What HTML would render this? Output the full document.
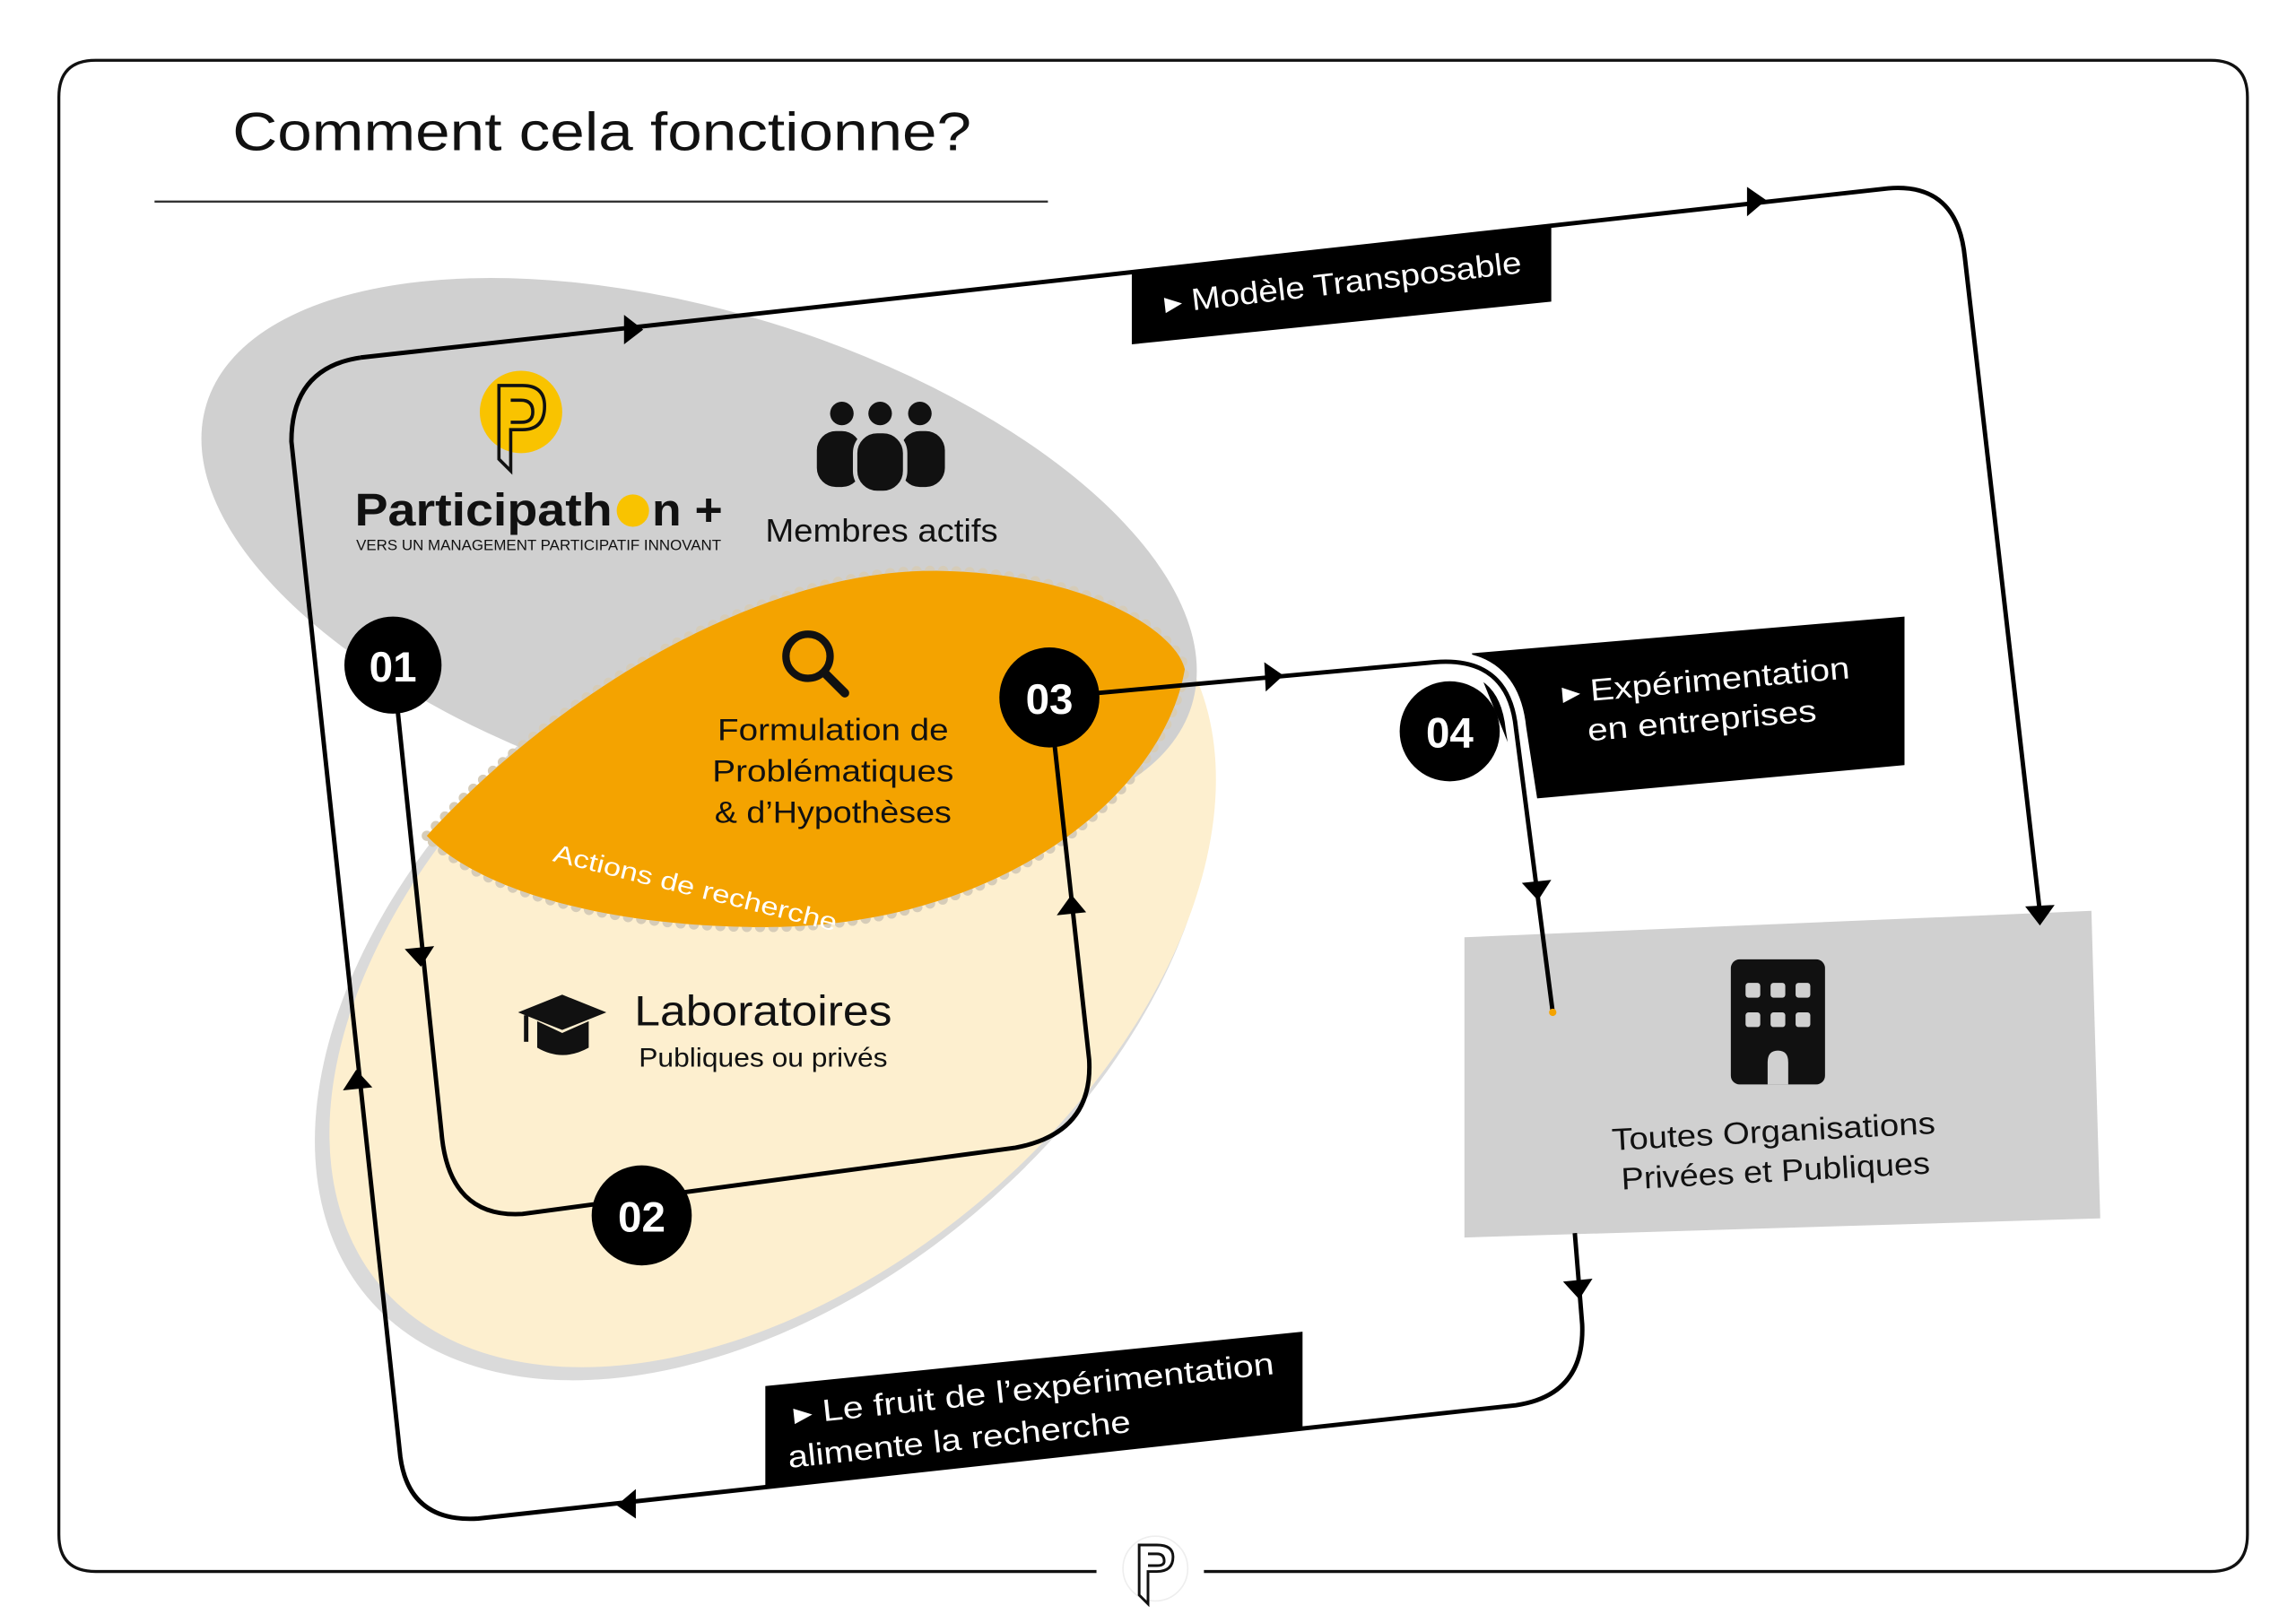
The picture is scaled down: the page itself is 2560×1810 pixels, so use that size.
<!DOCTYPE html>
<html><head><meta charset="utf-8"><style>
html,body{margin:0;padding:0;background:#fff;}
svg{display:block;}
text{font-family:"Liberation Sans",sans-serif;}
</style></head><body>
<svg width="2560" height="1810" viewBox="0 0 1560 1103" preserveAspectRatio="none" xmlns="http://www.w3.org/2000/svg">
<rect width="1560" height="1103" fill="#fff"/>
<!-- outer frame -->
<path d="M745,1068 H65 Q40,1068 40,1043 V66 Q40,41 65,41 H1502 Q1527,41 1527,66 V1043 Q1527,1068 1502,1068 H818" fill="none" stroke="#111" stroke-width="2"/>
<text x="158" y="102" font-size="37" fill="#111" textLength="502" lengthAdjust="spacingAndGlyphs">Comment cela fonctionne?</text>
<line x1="105" y1="137" x2="712" y2="137" stroke="#333" stroke-width="1.5"/>
<!-- cream ellipse -->
<ellipse cx="519" cy="655" rx="352" ry="222" transform="rotate(-40 519 655)" fill="#dadada"/>
<ellipse cx="525" cy="650" rx="348" ry="218" transform="rotate(-40 525 650)" fill="#fdefcf"/>
<!-- gray ellipse -->
<ellipse cx="475" cy="377" rx="350" ry="165" transform="rotate(17 475 377)" fill="#d0d0d0"/>
<!-- orange lens -->
<path d="M290,568 C380,470 520,385 640,388 C740,390 800,430 805,455 C790,540 680,630 520,630 C400,630 320,600 290,568 Z" fill="#f4a300" stroke="#d6ccb8" stroke-width="7" stroke-dasharray="0 9" stroke-linecap="round"/>
<path d="M290,568 C380,470 520,385 640,388 C740,390 800,430 805,455 C790,540 680,630 520,630 C400,630 320,600 290,568 Z" fill="#f4a300"/>
<!-- magnifier -->
<circle cx="549" cy="446" r="15" fill="none" stroke="#111" stroke-width="5"/>
<line x1="560" y1="457" x2="574" y2="471" stroke="#111" stroke-width="6" stroke-linecap="round"/>
<g font-size="21" fill="#111" text-anchor="middle">
<text x="566" y="503" textLength="157" lengthAdjust="spacingAndGlyphs">Formulation de</text>
<text x="566" y="531" textLength="164" lengthAdjust="spacingAndGlyphs">Problématiques</text>
<text x="566" y="559" textLength="161" lengthAdjust="spacingAndGlyphs">&amp; d’Hypothèses</text>
</g>
<text x="375" y="585" font-size="17" fill="#fff" transform="rotate(14 375 585)" textLength="198" lengthAdjust="spacingAndGlyphs">Actions de recherche</text>
<!-- logo -->
<circle cx="354" cy="280" r="28" fill="#f9c300"/>
<path d="M339,262 V312 L347,320 V292 H355 Q370,292 370,276 Q370,262 355,262 Z M347,272 H354 Q362,272 362,280 Q362,287 354,287 H347" fill="none" stroke="#111" stroke-width="2.2"/>
<text x="241" y="357" font-size="31" font-weight="bold" fill="#111" textLength="175" lengthAdjust="spacingAndGlyphs">Participath</text>
<circle cx="430" cy="347" r="11" fill="#f9c300"/>
<text x="443" y="357" font-size="31" font-weight="bold" fill="#111" textLength="48" lengthAdjust="spacingAndGlyphs">n +</text>
<text x="242" y="374" font-size="10" fill="#111" textLength="248" lengthAdjust="spacingAndGlyphs">VERS UN MANAGEMENT PARTICIPATIF INNOVANT</text>
<!-- people -->
<g fill="#111">
<circle cx="572" cy="281" r="8"/><circle cx="598" cy="281" r="8"/><circle cx="625" cy="281" r="8"/>
<rect x="555" y="293" width="30" height="38" rx="13"/><rect x="612" y="293" width="30" height="38" rx="13"/>
<rect x="581" y="293" width="34" height="42" rx="15" stroke="#d0d0d0" stroke-width="3"/>
</g>
<text x="520" y="368" font-size="22" fill="#111" textLength="158" lengthAdjust="spacingAndGlyphs">Membres actifs</text>
<!-- grad cap -->
<g fill="#111">
<polygon points="352,688 382,676 412,688 382,700"/>
<path d="M365,694 V712 Q382,722 400,712 V694 L382,702 Z"/>
<rect x="356" y="690" width="3" height="18"/>
</g>
<text x="431" y="697" font-size="29" fill="#111" textLength="175" lengthAdjust="spacingAndGlyphs">Laboratoires</text>
<text x="434" y="725" font-size="18" fill="#111" textLength="169" lengthAdjust="spacingAndGlyphs">Publiques ou privés</text>
<!-- gray org box -->
<polygon points="995,637 1421,619 1427,828 995,841" fill="#d0d0d0"/>
<rect x="1176" y="652" width="64" height="85" rx="6" fill="#111"/>
<g fill="#d0d0d0">
<rect x="1186" y="668" width="10" height="10" rx="2"/><rect x="1203" y="668" width="10" height="10" rx="2"/><rect x="1220" y="668" width="10" height="10" rx="2"/>
<rect x="1186" y="688" width="10" height="10" rx="2"/><rect x="1203" y="688" width="10" height="10" rx="2"/><rect x="1220" y="688" width="10" height="10" rx="2"/>
<path d="M1201,737 V722 Q1201,714 1208,714 Q1215,714 1215,722 V737 Z"/>
</g>
<g font-size="21" fill="#111" text-anchor="middle" transform="rotate(-3 1206 788)">
<text x="1206" y="776" textLength="220" lengthAdjust="spacingAndGlyphs">Toutes Organisations</text>
<text x="1206" y="803" textLength="210" lengthAdjust="spacingAndGlyphs">Privées et Publiques</text>
</g>
<!-- black labels -->
<polygon points="769,186 1054,154 1054,205 769,234" fill="#000"/>
<text x="792" y="213" font-size="21" fill="#fff" transform="rotate(-6.5 792 213)" textLength="244" lengthAdjust="spacingAndGlyphs">▸ Modèle Transposable</text>
<polygon points="1000,444 1294,419 1294,520 1040,543" fill="#000"/>
<g font-size="21" fill="#fff" transform="rotate(-5 1062 478)">
<text x="1062" y="478" textLength="196" lengthAdjust="spacingAndGlyphs">▸ Expérimentation</text>
<text x="1077" y="505" textLength="156" lengthAdjust="spacingAndGlyphs">en entreprises</text>
</g>
<polygon points="520,942 885,905 885,970 520,1012" fill="#000"/>
<g font-size="21" fill="#fff" transform="rotate(-6 540 968)">
<text x="540" y="968" textLength="328" lengthAdjust="spacingAndGlyphs">▸ Le fruit de l’expérimentation</text>
<text x="533" y="997" textLength="234" lengthAdjust="spacingAndGlyphs">alimente la recherche</text>
</g>
<!-- connectors -->
<g fill="none" stroke="#000" stroke-width="3">
<path d="M245,243 L1283,128 Q1330,124 1335,175 L1386,620"/>
<path d="M245,243 Q198,250 198,300 L272,990 Q278,1035 325,1032 L1030,955 Q1077,948 1075,900 L1070,838"/>
<path d="M267,452 L300,770 Q305,828 355,825 L690,780 Q743,770 740,720 L713,474"/>
<path d="M960,451 L975,450 Q1025,446 1030,495 L1040,560" stroke="#fff" stroke-width="14"/>
<path d="M713,474 L975,450 Q1025,446 1030,495 L1055,688"/>
</g>
<circle cx="1055" cy="688" r="2.5" fill="#f4a300"/>
<!-- arrowheads -->
<g fill="#000">
<polygon points="424,214 424,234 437,224"/>
<polygon points="1187,127 1187,147 1200,136"/>
<polygon points="1376,616 1396,615 1386,629"/>
<polygon points="1062,871 1082,869 1073,883"/>
<polygon points="432,1012 432,1032 419,1023"/>
<polygon points="233,741 253,739 242,727"/>
<polygon points="275,645 295,643 286,657"/>
<polygon points="718,622 738,620 728,608"/>
<polygon points="859,450 860,470 872,459"/>
<polygon points="1034,600 1054,598 1045,612"/>
</g>
<!-- numbered circles -->
<g fill="#000">
<circle cx="267" cy="452" r="33"/><circle cx="436" cy="826" r="34"/><circle cx="713" cy="474" r="34"/><circle cx="985" cy="497" r="34"/>
</g>
<g font-size="29" font-weight="bold" fill="#fff" text-anchor="middle">
<text x="267" y="463">01</text><text x="436" y="837">02</text><text x="713" y="485">03</text><text x="985" y="508">04</text>
</g>
<!-- bottom logo -->
<circle cx="785" cy="1066" r="22" fill="#fff" stroke="#eee" stroke-width="1"/>
<path d="M774,1050 V1084 L780,1090 V1068 H786 Q797,1068 797,1058 Q797,1050 786,1050 Z M780,1056 H786 Q791,1056 791,1061 Q791,1064 786,1064 H780" fill="none" stroke="#111" stroke-width="1.8"/>
</svg>
</body></html>
